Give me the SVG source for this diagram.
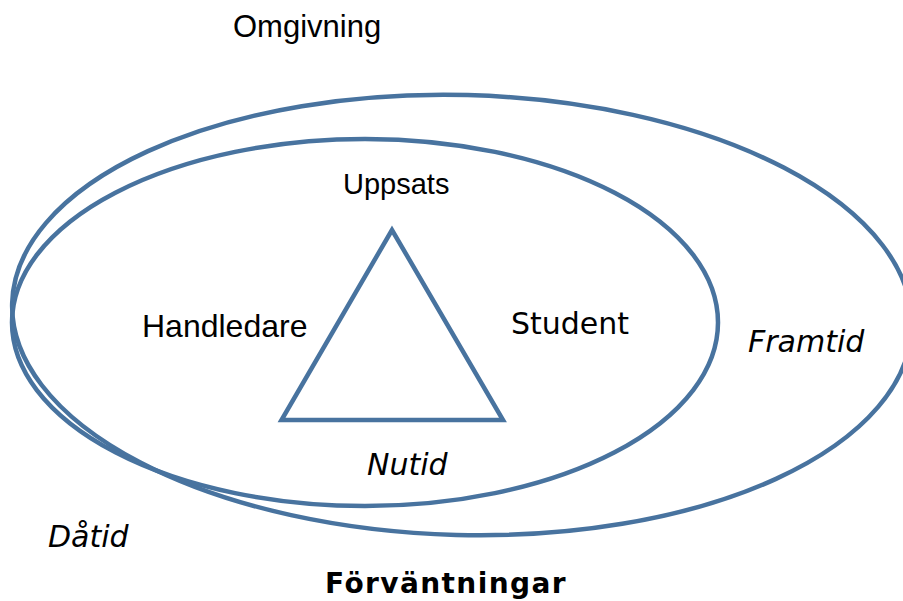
<svg xmlns="http://www.w3.org/2000/svg" width="903" height="601" viewBox="0 0 903 601">
<style>
.shape{fill:none;stroke:#48739f;stroke-width:4.5;stroke-linejoin:miter}
.sans{font-family:"Liberation Sans",Arial,sans-serif;fill:#000}
.luc{font-family:"DejaVu Sans","Noto Sans",sans-serif;fill:#000}
.it{font-style:italic}
</style>
<rect width="903" height="601" fill="#fff"/>
<g id="connectors"></g>
<g id="outer">
<ellipse class="shape" cx="462" cy="315" rx="450" ry="220" transform="rotate(1.5 462 315)"/>
</g>
<g id="inner">
<ellipse class="shape" cx="365" cy="322.5" rx="353" ry="183.5"/>
</g>
<g id="triangle">
<polygon class="shape" points="392,230 281.5,420 503,420"/>
</g>
<g id="omgivning"><text class="sans" x="233" y="37" font-size="31">Omgivning</text></g>
<g id="uppsats"><text class="sans" x="343" y="194" font-size="29">Uppsats</text></g>
<g id="handledare"><text class="sans" x="142" y="337" font-size="32">Handledare</text></g>
<g id="student"><text class="luc" x="511" y="334" font-size="30">Student</text></g>
<g id="framtid"><text class="luc it" x="748" y="352" font-size="30">Framtid</text></g>
<g id="nutid"><text class="luc it" x="367" y="475" font-size="30">Nutid</text></g>
<g id="datid"><text class="luc it" x="48" y="547" font-size="30">Dåtid</text></g>
<g id="forvantningar"><text class="luc" x="325" y="593" font-size="28" font-weight="bold" letter-spacing="1.4">Förväntningar</text></g>
</svg>
